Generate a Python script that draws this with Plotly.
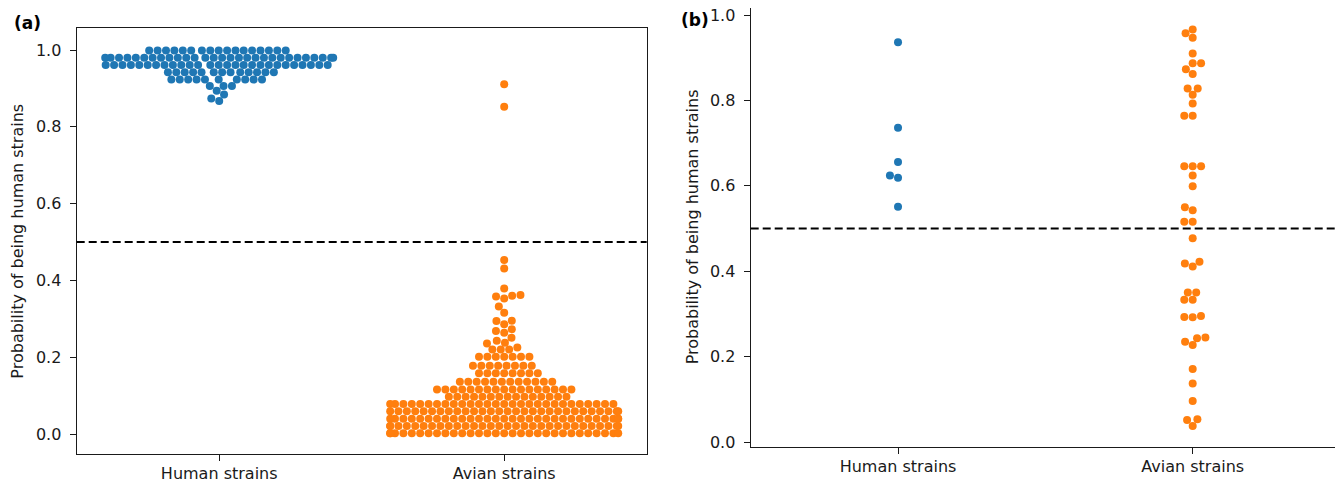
import numpy as np
import plotly.graph_objects as go

# browser window is 1343x481, the page body adds an 8px margin around the figure
OFF = 8
W, H = 1343 - OFF, 481 - OFF

categories = ["Human strains", "Avian strains"]
y_ticks = [0.0, 0.2, 0.4, 0.6, 0.8, 1.0]
y_tick_labels = ["0.0", "0.2", "0.4", "0.6", "0.8", "1.0"]
threshold = 0.5

# ---- panel (a): probability levels and how many strains sit at each ----
human_a_levels = [0.867, 0.874, 0.884, 0.894, 0.906, 0.923, 0.942, 0.961, 0.980, 0.999]
human_a_counts = [1, 1, 1, 1, 3, 10, 13, 27, 29, 17]

avian_a_levels = [0.002, 0.021, 0.040, 0.059, 0.078, 0.097, 0.116, 0.136, 0.158, 0.178,
                  0.201, 0.220, 0.225, 0.236, 0.238, 0.243, 0.251, 0.264, 0.268, 0.273,
                  0.286, 0.294, 0.295, 0.316, 0.332, 0.353, 0.358, 0.360, 0.362, 0.379,
                  0.431, 0.453, 0.852, 0.911]
avian_a_counts = [30, 30, 30, 29, 28, 15, 17, 12, 8, 8,
                  7, 3, 1, 1, 1, 1, 1, 1, 1, 1,
                  1, 1, 1, 1, 1, 1, 1, 1, 1, 1,
                  1, 1, 1, 1]

# ---- panel (b): individual strains ----
human_b = [0.936, 0.736, 0.656, 0.624, 0.619, 0.551]
avian_b = [0.966, 0.957, 0.947, 0.910, 0.887, 0.887, 0.873, 0.862, 0.828, 0.828,
           0.813, 0.793, 0.764, 0.764, 0.646, 0.646, 0.646, 0.624, 0.599, 0.550,
           0.543, 0.516, 0.516, 0.477, 0.422, 0.418, 0.411, 0.350, 0.350, 0.333,
           0.333, 0.295, 0.293, 0.292, 0.243, 0.245, 0.235, 0.227, 0.171, 0.137,
           0.096, 0.053, 0.0515, 0.0375]

BLUE = "#1f77b4"
ORANGE = "#ff7f0e"
INK = "#1a1a1a"
FONT = "DejaVu Sans"

# layout geometry (screen pixels)
A_L, A_R, A_T, A_B = 76.7, 646.7, 28.3, 454.0
B_L, B_R, B_T, B_B = 750.7, 1340.0, 8.0, 446.7
A_YR = [-0.052, 1.0565]
B_YR = [-0.011, 1.0164]
XR = [-0.5, 1.5]
R = 4.0  # marker radius in px


def beeswarm(values, py_per_unit, r, half_width):
    """seaborn-style swarm: returns horizontal pixel offsets"""
    y = np.asarray(values, float) * py_per_unit
    order = np.argsort(y, kind="stable")
    placed = []
    xs = np.zeros(len(y))
    for idx in order:
        yi = y[idx]
        neigh = []
        for xj, yj in reversed(placed):
            if yi - yj < 2 * r:
                neigh.append((xj, yj))
            else:
                break
        chosen = 0.0
        if neigh:
            cands = [0.0]
            left_first = True
            for xj, yj in neigh:
                dy = yi - yj
                dx = np.sqrt(max((2 * r) ** 2 - dy ** 2, 0.0)) * 1.05
                pair = [xj - dx, xj + dx] if left_first else [xj + dx, xj - dx]
                cands += pair
                left_first = not left_first
            cands = np.array(cands)
            cands = cands[np.argsort(np.abs(cands), kind="stable")]
            nx = np.array([n[0] for n in neigh])
            ny = np.array([n[1] for n in neigh])
            chosen = None
            for c in cands:
                if np.all((nx - c) ** 2 + (ny - yi) ** 2 >= (2 * r) ** 2 - 1e-9):
                    chosen = c
                    break
            if chosen is None:
                chosen = cands[-1]
        placed.append((chosen, yi))
        xs[idx] = chosen
    return np.clip(xs, -half_width, half_width)


def swarm_trace(values, cat, px_x, py_y, color, xa, ya):
    off = beeswarm(values, py_y, R, 0.4 * px_x)
    return go.Scatter(
        x=cat + off / px_x, y=values, mode="markers",
        marker=dict(size=2 * R, color=color, line=dict(width=0)),
        xaxis=xa, yaxis=ya, showlegend=False, hoverinfo="y",
    )


human_a = np.repeat(human_a_levels, human_a_counts)
avian_a = np.repeat(avian_a_levels, avian_a_counts)

a_px_x = (A_R - A_L) / (XR[1] - XR[0])
a_py_y = (A_B - A_T) / (A_YR[1] - A_YR[0])
b_px_x = (B_R - B_L) / (XR[1] - XR[0])
b_py_y = (B_B - B_T) / (B_YR[1] - B_YR[0])

fig = go.Figure()
fig.add_trace(swarm_trace(human_a, 0, a_px_x, a_py_y, BLUE, "x", "y"))
fig.add_trace(swarm_trace(avian_a, 1, a_px_x, a_py_y, ORANGE, "x", "y"))
fig.add_trace(swarm_trace(np.array(human_b), 0, b_px_x, b_py_y, BLUE, "x2", "y2"))
fig.add_trace(swarm_trace(np.array(avian_b), 1, b_px_x, b_py_y, ORANGE, "x2", "y2"))

axis_common = dict(showgrid=False, zeroline=False, showline=True, mirror=True,
                   linecolor=INK, linewidth=1.3, ticks="outside", ticklen=6,
                   tickwidth=1.2, tickcolor=INK, automargin=False,
                   ticklabeloverflow="allow",
                   tickfont=dict(family=FONT, size=16, color=INK))


def px(xs):
    return (xs - OFF) / W


def py(ys):
    return (H - (ys - OFF)) / H


def xd(l, r):
    return [px(l), px(r)]


def yd(t, b):
    return [py(b), min(py(t), 1.0)]


fig.update_layout(
    template="none",
    width=W, height=H, margin=dict(l=0, r=0, t=0, b=0, pad=0),
    paper_bgcolor="white", plot_bgcolor="white",
    xaxis=dict(domain=xd(A_L, A_R), range=XR, tickvals=[0, 1], ticktext=categories,
               anchor="y", ticklabelstandoff=-1, **axis_common),
    yaxis=dict(domain=yd(A_T, A_B), range=A_YR, tickvals=y_ticks, ticktext=y_tick_labels,
               anchor="x", ticklabelstandoff=5, **axis_common),
    xaxis2=dict(domain=xd(B_L, B_R), range=XR, tickvals=[0, 1], ticktext=categories,
                anchor="y2", ticklabelstandoff=-1, **axis_common),
    yaxis2=dict(domain=yd(B_T, B_B), range=B_YR, tickvals=y_ticks, ticktext=y_tick_labels,
                anchor="x2", ticklabelstandoff=5, **axis_common),
    shapes=[
        dict(type="line", xref="x domain", yref="y", x0=0, x1=1, y0=threshold, y1=threshold,
             line=dict(color="black", width=2, dash="8px,4px")),
        dict(type="line", xref="x2 domain", yref="y2", x0=0, x1=1, y0=threshold, y1=threshold,
             line=dict(color="black", width=2, dash="8px,4px")),
    ],
    annotations=[
        dict(text="<b>(a)</b>", x=px(12), y=py(23), xref="paper", yref="paper",
             xanchor="left", yanchor="middle", showarrow=False,
             font=dict(family=FONT, size=17, color="black")),
        dict(text="<b>(b)</b>", x=px(679), y=py(20), xref="paper", yref="paper",
             xanchor="left", yanchor="middle", showarrow=False,
             font=dict(family=FONT, size=17, color="black")),
        dict(text="Probability of being human strains", x=px(17.5), y=py((A_T + A_B) / 2),
             xref="paper", yref="paper", xanchor="center", yanchor="middle", textangle=-90,
             showarrow=False, font=dict(family=FONT, size=16, color=INK)),
        dict(text="Probability of being human strains", x=px(692), y=py((B_T + B_B) / 2),
             xref="paper", yref="paper", xanchor="center", yanchor="middle", textangle=-90,
             showarrow=False, font=dict(family=FONT, size=16, color=INK)),
    ],
)

fig.write_html("out.html")
